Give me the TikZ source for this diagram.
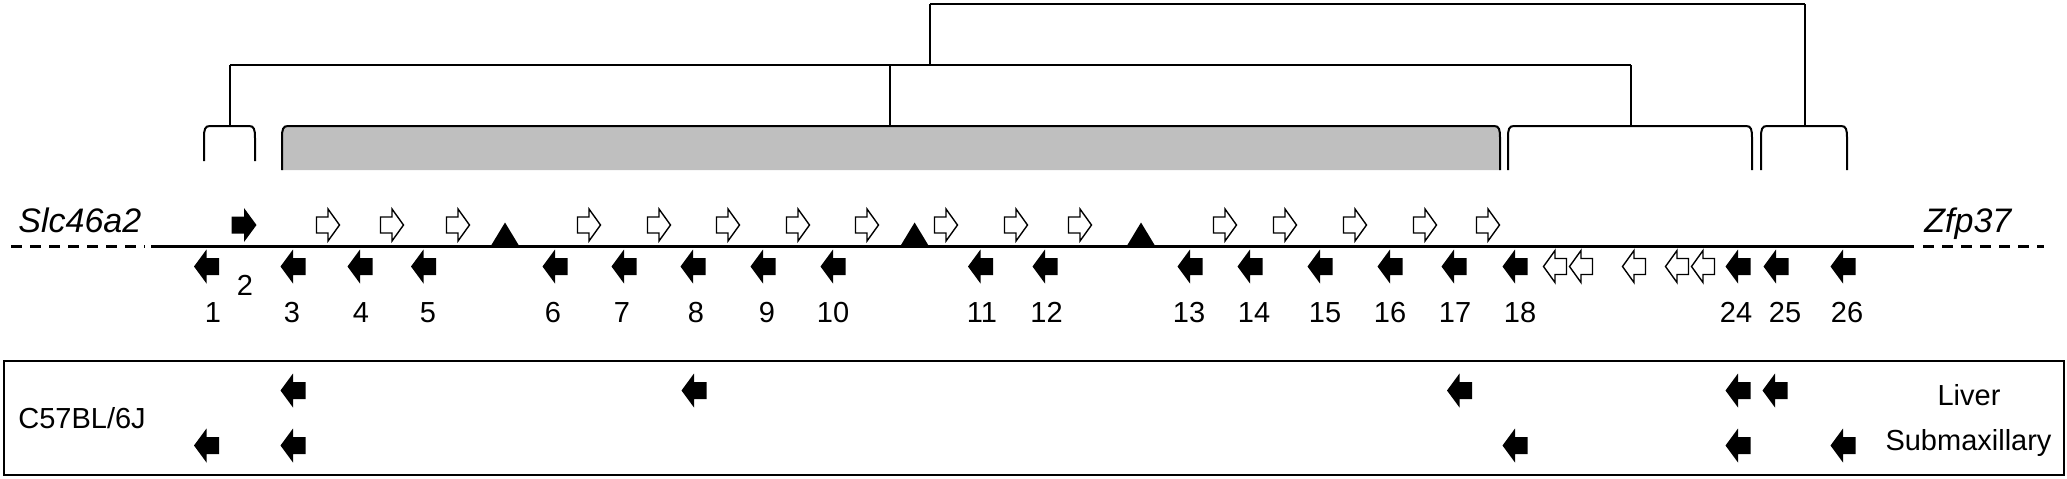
\documentclass[tikz,border=0pt]{standalone}
\usepackage{fontspec}
\setmainfont{Liberation Sans}
\begin{document}
\begin{tikzpicture}[x=0.5pt,y=-0.5pt,
  larrow/.pic={\fill[black] (-12.5,0) -- (0,-17) -- (0,-8.5) -- (12.5,-8.5) -- (12.5,8.5) -- (0,8.5) -- (0,17) -- cycle;},
  rarrow/.pic={\fill[black] (12.5,0) -- (0,-17) -- (0,-8.5) -- (-12.5,-8.5) -- (-12.5,8.5) -- (0,8.5) -- (0,17) -- cycle;},
  olarrow/.pic={\draw[line width=0.7pt,fill=white,line join=miter] (-11.5,0) -- (0,-16) -- (0,-8) -- (11.5,-8) -- (11.5,8) -- (0,8) -- (0,16) -- cycle;},
  orarrow/.pic={\draw[line width=0.7pt,fill=white,line join=miter] (11.5,0) -- (0,-16) -- (0,-8) -- (-11.5,-8) -- (-11.5,8) -- (0,8) -- (0,16) -- cycle;},
  tri/.pic={\fill[black] (-14.5,0) -- (14.5,0) -- (0,-24) -- cycle;},
  num/.style={font=\fontsize{14.5}{16}\selectfont, inner sep=0pt},
  gene/.style={font=\fontsize{17}{19}\selectfont\itshape, inner sep=0pt, anchor=base west},
  lab/.style={font=\fontsize{14.5}{16}\selectfont, inner sep=0pt},
  hline/.style={line width=1pt},
  vline/.style={line width=0.55pt},
  brk/.style={line width=1pt},
  dashline/.style={line width=1.35pt, dash pattern=on 5.5pt off 4pt},
]
\useasboundingbox (0,0) rectangle (2067,478);

% dendrogram
\draw[hline] (930,4) -- (1805,4);
\draw[vline] (930,4) -- (930,65);
\draw[vline] (1805,4) -- (1805,126);
\draw[hline] (230,65) -- (1631,65);
\draw[vline] (230,65) -- (230,126);
\draw[vline] (890,65) -- (890,126);
\draw[vline] (1631,65) -- (1631,126);

% gray box
\fill[gray!50!white!100, fill=black!25] (282,170) -- (282,138) .. controls (282,129) and (283,126) .. (288,126) -- (1494,126) .. controls (1499,126) and (1500,129) .. (1500,138) -- (1500,170) -- cycle;
\draw[brk] (282,170) -- (282,138) .. controls (282,129) and (283,126) .. (288,126) -- (1494,126) .. controls (1499,126) and (1500,129) .. (1500,138) -- (1500,170);

% brackets
\draw[brk] (204,161) -- (204,138) .. controls (204,129) and (205,126) .. (210,126) -- (249,126) .. controls (254,126) and (255,129) .. (255,138) -- (255,161);
\draw[brk] (1508,170) -- (1508,138) .. controls (1508,129) and (1509,126) .. (1514,126) -- (1746,126) .. controls (1751,126) and (1752,129) .. (1752,138) -- (1752,170);
\draw[brk] (1761,170) -- (1761,138) .. controls (1761,129) and (1762,126) .. (1767,126) -- (1841,126) .. controls (1846,126) and (1847,129) .. (1847,138) -- (1847,170);

% gene line
\draw[dashline] (11,246.5) -- (145,246.5);
\draw[line width=1.35pt] (151,246.5) -- (1914,246.5);
\draw[dashline] (1923,246.5) -- (2044,246.5);
\node[gene] (slc) at (18,232) {Slc46a2};
\node[gene] (zfp) at (1924,232) {Zfp37};

% triangles
\foreach \x in {505,914.6,1141} \pic at (\x,246.5) {tri};

% top arrows
\pic (a2) at (244,225) {rarrow};
\foreach \x in {328,392,458,589,659,728,798,867,946,1016,1080,1225,1285,1355,1425,1488}
  \pic at (\x,225) {orarrow};

% bottom arrows
\foreach \x in {206.5,293,360,423.5,555,624,693,763,833,980.5,1045,1190,1250,1320,1390,1454,1515,1738,1776,1843}
  \pic at (\x,266.5) {larrow};
\foreach \x in {1555,1581,1634,1677,1703}
  \pic at (\x,266.5) {olarrow};

% numbers
\node[num] (n2) at (245,285) {2};
\foreach \x/\t in {213/1,292/3,361/4,428/5,553/6,622/7,696/8,767/9,833/10,982/11,1046.5/12,1189/13,1254/14,1325/15,1390/16,1455/17,1520/18,1736/24,1785/25,1847/26}
  \node[num] (n\t) at (\x,312.5) {\t};

% expression box
\draw[line width=1pt] (4,361) rectangle (2064,475);
\node[lab, anchor=west] (strain) at (18,418) {C57BL/6J};
\node[lab] (liver) at (1969,395) {Liver};
\node[lab] (subm) at (1968.5,443) {Submaxillary};
\foreach \x in {293,694,1459.5,1738,1775}
  \pic at (\x,390.5) {larrow};
\foreach \x in {206.5,293,1515,1738,1843}
  \pic at (\x,445.5) {larrow};
\end{tikzpicture}
\end{document}
